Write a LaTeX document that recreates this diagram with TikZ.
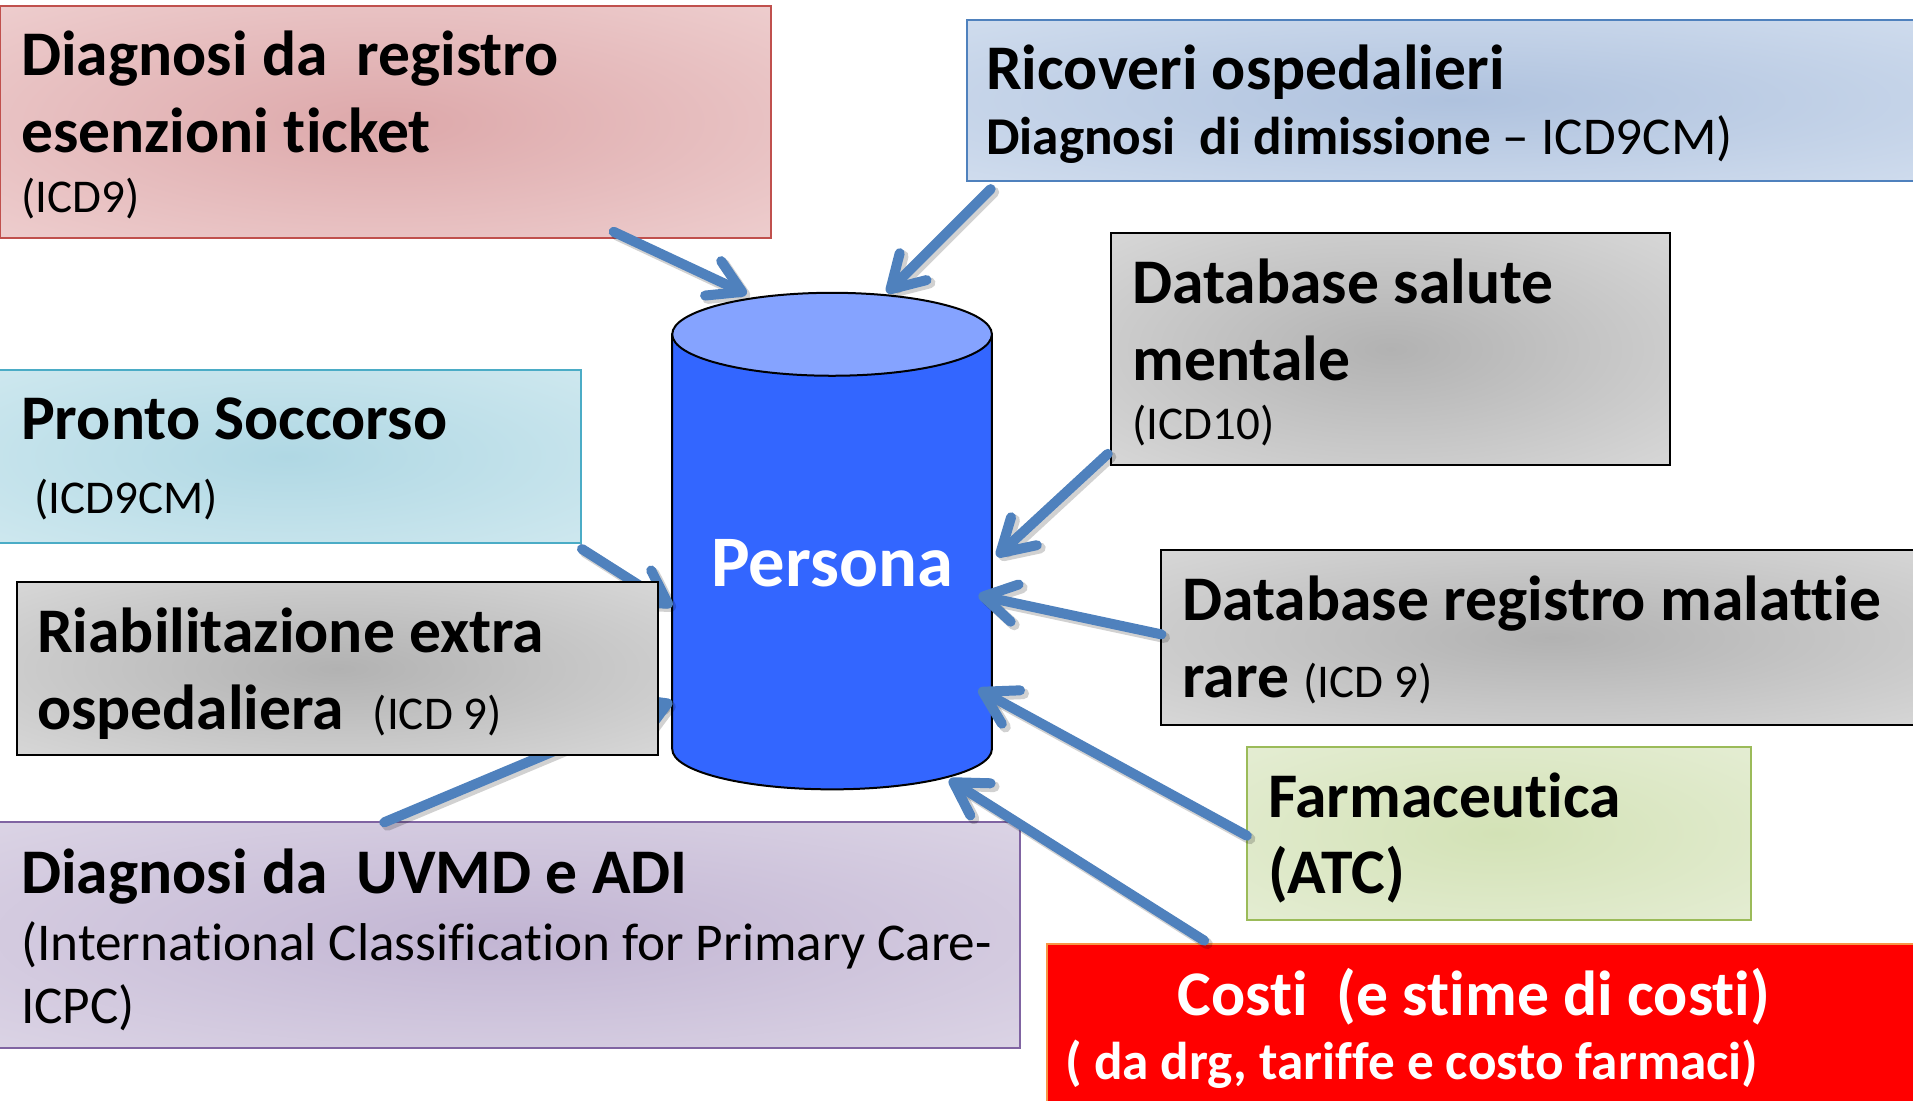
\documentclass[tikz,border=0pt]{standalone}
\usepackage{fontspec}
\setmainfont[Ligatures=NoCommon]{Carlito}
\usetikzlibrary{arrows.meta}
\definecolor{arrblue}{HTML}{4F81BD}
\definecolor{rin}{HTML}{DDA8AA}\definecolor{rout}{HTML}{F4DCDC}\definecolor{rbd}{HTML}{C0504D}
\definecolor{bin}{HTML}{AFC2DE}\definecolor{bout}{HTML}{DDE7F4}\definecolor{bbd}{HTML}{4F81BD}
\definecolor{gin}{HTML}{B2B2B2}\definecolor{gout}{HTML}{E6E6E6}
\definecolor{cin}{HTML}{B0D8E4}\definecolor{cout}{HTML}{DAEEF3}\definecolor{cbd}{HTML}{4BACC6}
\definecolor{pin}{HTML}{C2B5D3}\definecolor{pout}{HTML}{E5E0EC}\definecolor{pbd}{HTML}{8064A2}
\definecolor{vin}{HTML}{D3E2B6}\definecolor{vout}{HTML}{EBF1DE}\definecolor{vbd}{HTML}{9BBB59}
\definecolor{cylbody}{HTML}{3366FF}\definecolor{cyltop}{HTML}{85A3FF}
\definecolor{costbd}{HTML}{F79646}
\colorlet{boxin}{gray}\colorlet{boxout}{white}
\pgfdeclareradialshading[boxin,boxout]{boxrad}{\pgfpointorigin}{color(0bp)=(boxin); color(50bp)=(boxout)}
\tikzset{
  box/.style={draw, line width=1pt, shading=boxrad, anchor=north west, inner sep=0pt, outer sep=0pt},
  cols/.style 2 args={/utils/exec={\colorlet{boxin}{#1}\colorlet{boxout}{#2}}},
  tit/.style={font=\fontsize{31.8}{38}\selectfont\bfseries, anchor=base west, inner sep=0pt},
  sub/.style={font=\fontsize{23.5}{28}\selectfont, anchor=base west, inner sep=0pt},
  mid/.style={font=\fontsize{26.6}{32}\selectfont, anchor=base west, inner sep=0pt},
  arr/.style={draw=arrblue, line width=5pt, line cap=round,
    -{Straight Barb[length=16pt, width=19pt, round]}},
  arrsh/.style={draw=black, opacity=0.18, line width=5.5pt, line cap=round,
    -{Straight Barb[length=16pt, width=19pt, round]}}
}
\newcommand\conn[2]{%
  \draw[arrsh] ([shift={(2.5,2.5)}]#1) -- ([shift={(2.5,2.5)}]#2);
  \draw[arr] (#1) -- (#2);}
\begin{document}
\begin{tikzpicture}[x=0.61pt,y=-0.61pt]
\path[use as bounding box] (0,0) rectangle (1568,902);
\clip (0,0) rectangle (1568,902);
% boxes
\node[box, draw=rbd, cols={rin}{rout}, minimum width=632*0.61pt, minimum height=190*0.61pt] (esenz) at (0,5) {};
\node[box, draw=bbd, cols={bin}{bout}, minimum width=800*0.61pt, minimum height=132*0.61pt] (ricov) at (793,16) {};
\node[box, draw=black, cols={gin}{gout}, minimum width=458*0.61pt, minimum height=190*0.61pt] (mentale) at (911,191) {};
\node[box, draw=cbd, cols={cin}{cout}, minimum width=480*0.61pt, minimum height=142*0.61pt] (pronto) at (-4,303) {};
\node[box, draw=pbd, cols={pin}{pout}, minimum width=840*0.61pt, minimum height=185*0.61pt] (uvmd) at (-4,674) {};
\node[box, draw=black, cols={gin}{gout}, minimum width=640*0.61pt, minimum height=143*0.61pt] (rare) at (952,451) {};
\node[box, draw=vbd, cols={vin}{vout}, minimum width=413*0.61pt, minimum height=142*0.61pt] (farma) at (1022,612) {};
\node[draw=costbd, fill=red, line width=1pt, anchor=north west, inner sep=0pt, minimum width=740*0.61pt, minimum height=150*0.61pt] (costi) at (857,773) {};
% cylinder
\filldraw[fill=cylbody, draw=black, line width=1pt] (551,274) -- (551,614) arc[start angle=180, end angle=0, x radius=131, y radius=33] -- (813,274) -- cycle;
\filldraw[fill=cyltop, draw=black, line width=1pt] (682,274) ellipse[x radius=131, y radius=34];
\node[font=\fontsize{36.3}{43}\selectfont\bfseries, text=white, anchor=base, inner sep=0pt] (persona) at (682,481) {Persona};
% arrow end points
\coordinate (s1) at (503,190); \coordinate (e1) at (612,241);
\coordinate (s2) at (812,155); \coordinate (e2) at (727,240);
\coordinate (s3) at (908,372); \coordinate (e3) at (817,456);
\coordinate (s4) at (952,520); \coordinate (e4) at (802,488);
\coordinate (s5) at (1022,685); \coordinate (e5) at (802,565);
\coordinate (s6) at (987,771); \coordinate (e6) at (778,639);
\coordinate (s7) at (477,450); \coordinate (e7) at (551,497);
\coordinate (s8) at (315,674); \coordinate (e8) at (551,575);
\conn{s1}{e1}\conn{s2}{e2}\conn{s3}{e3}\conn{s4}{e4}
\conn{s5}{e5}\conn{s6}{e6}\conn{s7}{e7}\conn{s8}{e8}
% box drawn over arrows
\node[box, draw=black, cols={gin}{gout}, minimum width=525*0.61pt, minimum height=142*0.61pt] (riab) at (14,477) {};
% texts
\node[tit] (t1a) at (17,62) {Diagnosi da~~registro};
\node[tit] (t1b) at (17,125) {esenzioni ticket};
\node[sub] (t1c) at (17,174) {(ICD9)};
\node[tit] (t2a) at (808,73) {Ricoveri ospedalieri};
\node[mid] (t2b) at (808,127) {\bfseries Diagnosi~~di dimissione\mdseries{} – ICD9CM)};
\node[tit] (t3a) at (928,249) {Database salute};
\node[tit] (t3b) at (928,312) {mentale};
\node[sub] (t3c) at (928,360) {(ICD10)};
\node[tit] (t4a) at (17,360) {Pronto Soccorso};
\node[sub] (t4b) at (28,421) {(ICD9CM)};
\node[tit] (t5a) at (30,535) {Riabilitazione extra};
\node[tit] (t5b) at (30,598) {ospedaliera~~\fontsize{23.5}{28}\selectfont\mdseries(ICD 9)};
\node[tit] (t6a) at (17,732) {Diagnosi da~~UVMD e ADI};
\node[mid] (t6b) at (17,787) {(International Classification for Primary Care-};
\node[mid] (t6c) at (17,839) {ICPC)};
\node[tit] (t7a) at (969,509) {Database registro malattie};
\node[tit] (t7b) at (969,572) {rare \fontsize{23.5}{28}\selectfont\mdseries(ICD 9)};
\node[tit] (t8a) at (1039,670) {Farmaceutica};
\node[tit] (t8b) at (1039,732) {(ATC)};
\node[tit, text=white] (t9a) at (965,832) {Costi~~(e stime di costi)};
\node[mid, text=white, font=\fontsize{26.6}{32}\selectfont\bfseries] (t9b) at (873,885) {( da drg, tariffe e costo farmaci)};
\end{tikzpicture}
\end{document}
